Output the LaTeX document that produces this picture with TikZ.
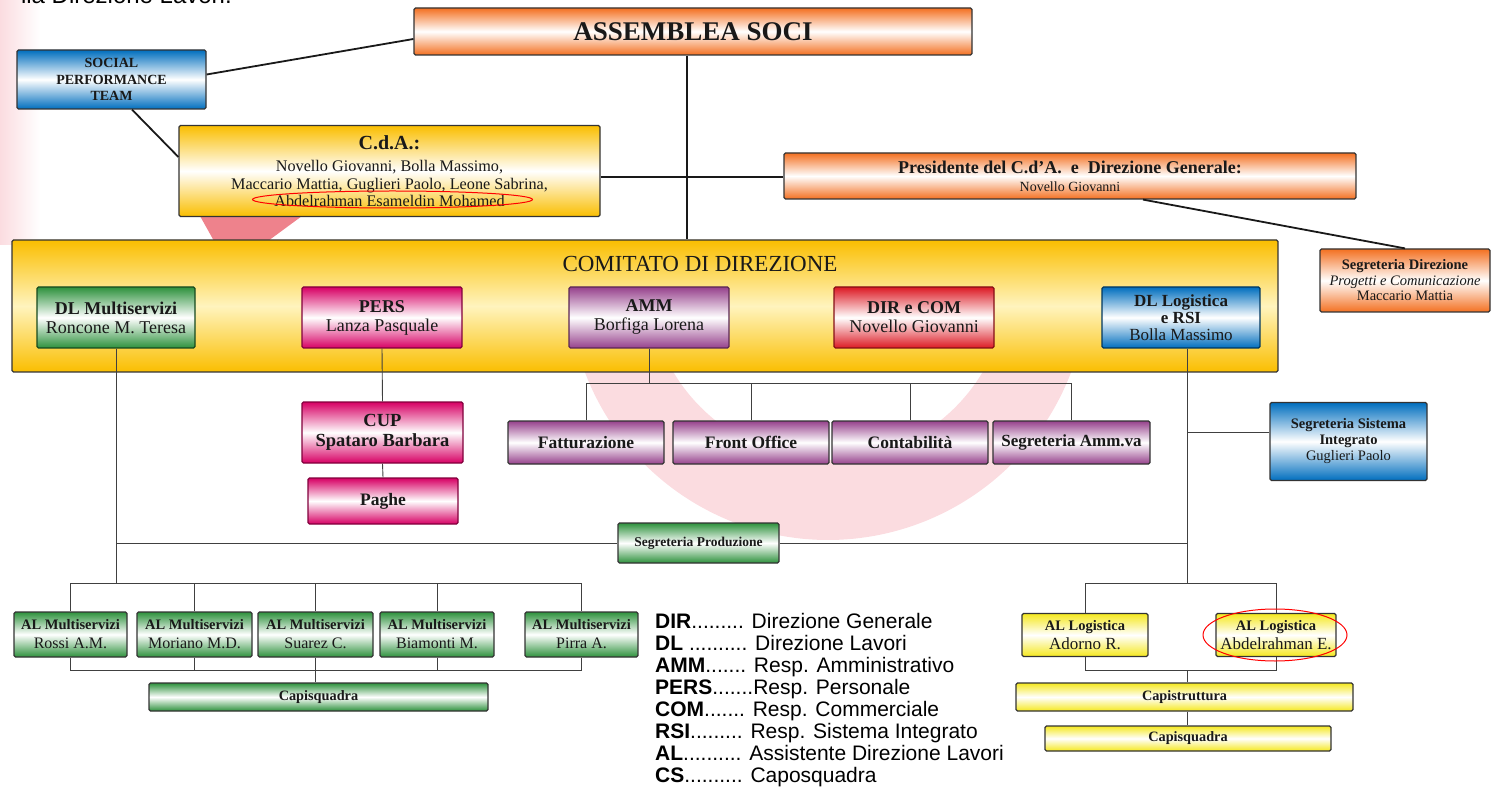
\documentclass[tikz,border=0pt]{standalone}
\usepackage{fontspec}
\setmainfont{Liberation Serif}
\newfontfamily\legendfont{Liberation Sans}
\usetikzlibrary{positioning,calc}

\definecolor{orgorange}{RGB}{243,112,33}
\definecolor{orgblue}{RGB}{0,110,190}
\definecolor{orggold}{RGB}{250,190,0}
\definecolor{orglight}{RGB}{255,244,190}
\definecolor{orggreen}{RGB}{45,145,60}
\definecolor{orgpink}{RGB}{215,0,100}
\definecolor{orgpurple}{RGB}{150,65,140}
\definecolor{orgred}{RGB}{220,25,35}
\definecolor{orgyellow}{RGB}{245,232,30}
\definecolor{wmpink}{RGB}{251,220,224}
\definecolor{wmred}{RGB}{238,130,140}

\tikzset{
  card/.style={draw=black!80, line width=1.2pt, rounded corners=1.5pt,
    top color=#1, bottom color=#1, middle color=white,
    align=center, inner sep=1pt, text=black!90},
  link/.style={line width=1.8pt, black!90},
  thin/.style={line width=0.9pt, black!75},
}

\begin{document}
\begin{tikzpicture}[x=1pt,y=1pt,yscale=-1,xscale=1]
\useasboundingbox (0,0) rectangle (1499,799);

%Shape: watermark in the background
\draw[wmpink, line width=80pt] plot[domain=10:170, smooth, samples=40] ({828+220*cos(\x)},{280+220*sin(\x)});
\shade[left color=wmpink, right color=white] (0,0) rectangle (40,245);
\fill[wmred] (200,216) -- (302,216) -- (268,241) -- (214,241) -- cycle;

% Text Node (cut at the top)
\node[anchor=base east, inner sep=0pt, font=\legendfont\fontsize{24}{24}\selectfont] (titolo) at (232,4) {lla Direzione Lavori.};

%Shape: top level
\node[card=orgorange, minimum width=558, minimum height=47, font=\fontsize{27}{29}\selectfont\bfseries] (assemblea) at (693,31.5) {ASSEMBLEA SOCI};
\node[card=orgblue, minimum width=189, minimum height=59, font=\fontsize{14}{16.5}\selectfont\bfseries] (social) at (111.5,79.5) {SOCIAL\\PERFORMANCE\\TEAM};
\node[card=orggold, minimum width=421, minimum height=91, font=\fontsize{16.2}{17.5}\selectfont] (cda) at (389.5,171)
  {{\fontsize{20}{20}\selectfont\bfseries C.d.A.:}\\[5pt] Novello Giovanni, Bolla Massimo,\\ Maccario Mattia, Guglieri Paolo, Leone Sabrina,\\ Abdelrahman Esameldin Mohamed};
\node[card=orgorange, minimum width=572, minimum height=46, font=\fontsize{14}{18}\selectfont] (pres) at (1070,176)
  {{\fontsize{18}{18}\selectfont\bfseries Presidente del C.d'A.\ \ e\ \ Direzione Generale:}\\ Novello Giovanni};
\node[card=orgorange, minimum width=170, minimum height=63, font=\fontsize{14.5}{15.5}\selectfont] (segdir) at (1405,280.5)
  {\textbf{Segreteria Direzione}\\ \textit{Progetti e Comunicazione}\\ Maccario Mattia};

%Shape: comitato
\node[card=orggold, middle color=orglight, minimum width=1266, minimum height=132] (comitato) at (645,306) {};
\node[font=\fontsize{23}{25}\selectfont, text=black!90] (comtitolo) at (700,264) {COMITATO DI DIREZIONE};
\node[card=orggreen, draw=orggreen!50!black, minimum width=158, minimum height=61, font=\fontsize{18}{19}\selectfont] (dlmulti) at (116,317.5) {\textbf{DL Multiservizi}\\ Roncone M. Teresa};
\node[card=orgpink, draw=orgpink!60!black, minimum width=160, minimum height=61, font=\fontsize{18}{19}\selectfont] (pers) at (382,317.5) {\textbf{PERS}\\ Lanza Pasquale};
\node[card=orgpurple, draw=orgpurple!60!black, minimum width=160, minimum height=61, font=\fontsize{18}{19}\selectfont] (amm) at (649,317.5) {\textbf{AMM}\\ Borfiga Lorena};
\node[card=orgred, draw=orgred!60!black, minimum width=160, minimum height=61, font=\fontsize{18}{19}\selectfont] (dircom) at (914,317.5) {\textbf{DIR e COM}\\ Novello Giovanni};
\node[card=orgblue, draw=orgblue!50!black, minimum width=158, minimum height=61, font=\fontsize{17}{17}\selectfont] (dllog) at (1181,317.5) {\textbf{DL Logistica}\\ \textbf{e RSI}\\ Bolla Massimo};

%Shape: uffici
\node[card=orgpink, draw=orgpink!60!black, minimum width=161, minimum height=61, font=\fontsize{18.5}{20}\selectfont\bfseries] (cup) at (382.5,432.5) {CUP\\ Spataro Barbara};
\node[card=orgpink, draw=orgpink!60!black, minimum width=150, minimum height=46, font=\fontsize{17.5}{19}\selectfont\bfseries] (paghe) at (383,501) {Paghe};
\node[card=orgpurple, minimum width=156, minimum height=43, font=\fontsize{17.5}{19}\selectfont\bfseries] (fatt) at (586,442.5) {Fatturazione};
\node[card=orgpurple, minimum width=156, minimum height=43, font=\fontsize{17.5}{19}\selectfont\bfseries] (front) at (751,442.5) {Front Office};
\node[card=orgpurple, minimum width=156, minimum height=43, font=\fontsize{17.5}{19}\selectfont\bfseries] (conta) at (910,442.5) {Contabilità};
\node[card=orgpurple, minimum width=157, minimum height=43, font=\fontsize{17}{19}\selectfont\bfseries] (segamm) at (1071.5,442.5) {Segreteria Amm.va};
\node[card=orgblue, minimum width=157, minimum height=78, font=\fontsize{14.5}{16}\selectfont] (segsi) at (1348.5,441.5) {\textbf{Segreteria Sistema}\\ \textbf{Integrato}\\ Guglieri Paolo};
\node[card=orggreen, minimum width=161, minimum height=40, font=\fontsize{13.5}{15}\selectfont\bfseries] (segprod) at (698.5,543) {Segreteria Produzione};

%Shape: assistenti
\node[card=orggreen, minimum width=113, minimum height=45, font=\fontsize{16}{19}\selectfont] (rossi) at (70.5,634.5) {{\fontsize{14.5}{15}\selectfont\bfseries AL Multiservizi}\\ Rossi A.M.};
\node[card=orggreen, minimum width=115, minimum height=45, font=\fontsize{16}{19}\selectfont] (moriano) at (194.5,634.5) {{\fontsize{14.5}{15}\selectfont\bfseries AL Multiservizi}\\ Moriano M.D.};
\node[card=orggreen, minimum width=115, minimum height=45, font=\fontsize{16}{19}\selectfont] (suarez) at (315.5,634.5) {{\fontsize{14.5}{15}\selectfont\bfseries AL Multiservizi}\\ Suarez C.};
\node[card=orggreen, minimum width=114, minimum height=45, font=\fontsize{16}{19}\selectfont] (biamonti) at (437,634.5) {{\fontsize{14.5}{15}\selectfont\bfseries AL Multiservizi}\\ Biamonti M.};
\node[card=orggreen, minimum width=113, minimum height=45, font=\fontsize{16}{19}\selectfont] (pirra) at (581.5,634.5) {{\fontsize{14.5}{15}\selectfont\bfseries AL Multiservizi}\\ Pirra A.};
\node[card=orggreen, minimum width=339, minimum height=28, font=\fontsize{14.3}{15}\selectfont\bfseries] (capsqmulti) at (318.5,697) {Capisquadra};

\node[card=orgyellow, minimum width=126, minimum height=43, font=\fontsize{17}{19}\selectfont] (adorno) at (1085,635) {{\fontsize{14.5}{15}\selectfont\bfseries AL Logistica}\\ Adorno R.};
\node[card=orgyellow, minimum width=120, minimum height=43, font=\fontsize{17}{19}\selectfont] (abdel) at (1276,635) {{\fontsize{14.5}{15}\selectfont\bfseries AL Logistica}\\ Abdelrahman E.};
\node[card=orgyellow, minimum width=337, minimum height=28, font=\fontsize{14.3}{15}\selectfont\bfseries] (capstr) at (1184.5,697) {Capistruttura};
\node[card=orgyellow, minimum width=286, minimum height=25, font=\fontsize{14.3}{15}\selectfont\bfseries] (capsqlog) at (1188,738.5) {Capisquadra};

% Text Node: legenda
\node[anchor=north west, inner sep=0pt, align=left, font=\legendfont\fontsize{21}{22}\selectfont] (legenda) at (655,613)
  {\textbf{DIR}......... Direzione Generale\\
   \textbf{DL} .......... Direzione Lavori\\
   \textbf{AMM}....... Resp. Amministrativo\\
   \textbf{PERS}.......Resp. Personale\\
   \textbf{COM}....... Resp. Commerciale\\
   \textbf{RSI}......... Resp. Sistema Integrato\\
   \textbf{AL}.......... Assistente Direzione Lavori\\
   \textbf{CS}.......... Caposquadra};

% connectors, top
\draw[link] ([yshift=-5pt]social.east) -- ([yshift=7.5pt]assemblea.west);
\draw[link] ([xshift=20.5pt]social.south) -- ([yshift=-14pt]cda.west);
\draw[link] ([xshift=-6pt]assemblea.south) -- ([xshift=-6pt]assemblea.south |- comitato.north);
\draw[link] ([yshift=6pt]cda.east) -- ([yshift=6pt]cda.east -| pres.west);
\draw[link] ([xshift=73pt]pres.south) -- (segdir.north);

% connectors, comitato
\coordinate (ammbus) at (649,383);
\coordinate (mbus) at (0,583);
\coordinate (mbot) at (0,670);
\coordinate (lt) at ([xshift=6pt]dllog.south);
\coordinate (sijoin) at ([yshift=-9.5pt]segsi.west);
\draw[thin] (pers.south) -- (cup.north);
\draw[thin] (cup.south) -- (paghe.north);
\draw[thin] (amm.south) -- (ammbus);
\draw[thin] (fatt.north) |- (segamm.north |- ammbus) -- (segamm.north);
\foreach \n in {front,conta} \draw[thin] (\n.north) -- (\n.north |- ammbus);
\draw[thin] (dlmulti.south) |- (segprod.west);
\draw[thin] (segprod.east) -| (lt);
\draw[thin] (dlmulti.south) -- (dlmulti.south |- mbus);
\draw[thin] (lt) -- (lt |- mbus);
\draw[thin] (lt |- sijoin) -- (sijoin);

% connectors, assistenti
\draw[thin] (rossi.north) |- (pirra.north |- mbus) -- (pirra.north);
\foreach \n in {moriano,suarez,biamonti} \draw[thin] (\n.north) -- (\n.north |- mbus);
\draw[thin] (rossi.south) |- (pirra.south |- mbot) -- (pirra.south);
\foreach \n in {moriano,biamonti} \draw[thin] (\n.south) -- (\n.south |- mbot);
\draw[thin] (suarez.south) -- (suarez.south |- capsqmulti.north);
\draw[thin] (adorno.north) |- (abdel.north |- mbus) -- (abdel.north);
\draw[thin] (adorno.south) |- (abdel.south |- mbot) -- (abdel.south);
\draw[thin] (lt |- mbot) -- (lt |- capstr.north);
\draw[thin] (capstr.south -| lt) -- (capsqlog.north -| lt);

% red marks
\draw[red, line width=1pt] (392.5,199.5) ellipse [x radius=140, y radius=8.5];
\draw[red, line width=1pt] (1275,635) ellipse [x radius=72, y radius=26];
\end{tikzpicture}
\end{document}
